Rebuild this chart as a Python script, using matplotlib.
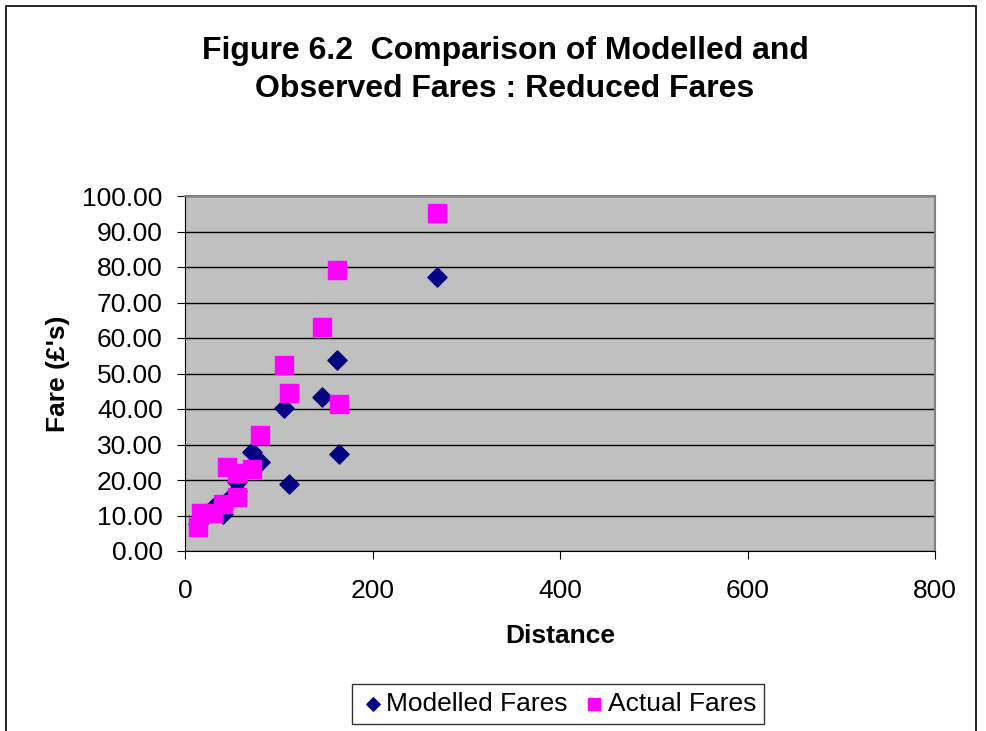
import matplotlib
matplotlib.use("Agg")
import matplotlib.pyplot as plt
from matplotlib.patches import Rectangle
from matplotlib.ticker import FuncFormatter

plt.rcParams["font.family"] = ["Liberation Sans", "DejaVu Sans"]

# distance (x) shared by both series
distance = [14, 17, 30, 41, 45, 56, 56, 72, 80, 106, 111, 146, 162, 164, 269]
modelled = [7.5, 9.0, 12.0, 10.5, 14.0, 19.5, 17.0, 27.8, 25.0, 40.2, 18.8, 43.5, 53.8, 27.4, 77.3]
actual = [6.9, 10.6, 10.6, 13.1, 23.6, 21.9, 15.3, 23.2, 32.7, 52.4, 44.6, 63.2, 79.2, 41.3, 95.1]

fig = plt.figure(figsize=(9.87, 7.31), dpi=100)
fig.patches.append(Rectangle((6 / 987, -0.01), 970 / 987, 1 - 6 / 731 + 0.01,
                             transform=fig.transFigure, fill=False,
                             edgecolor="black", lw=1.2))

ax = fig.add_axes([185 / 987, 1 - 551 / 731, 750 / 987, 355 / 731])
ax.set_facecolor("#C0C0C0")
ax.scatter(distance, modelled, marker="D", s=95, color="#000080",
           label="Modelled Fares", zorder=3)
ax.scatter(distance, actual, marker="s", s=150, color="#FF00FF",
           label="Actual Fares", zorder=4)

ax.set_xlim(0, 800)
ax.set_ylim(0, 100)
ax.set_xticks(range(0, 801, 200))
ax.set_yticks(range(0, 101, 10))
ax.yaxis.set_major_formatter(FuncFormatter(lambda v, p: f"{v:.2f}"))
ax.grid(axis="y", color="black", lw=1)
ax.set_axisbelow(True)
for s in ("top", "right"):
    ax.spines[s].set_color("#808080")
    ax.spines[s].set_linewidth(1.5)
ax.spines["left"].set_color("black")
ax.spines["bottom"].set_color("black")
ax.tick_params(labelsize=19, length=6, direction="out")
ax.tick_params(axis="x", pad=14)
ax.tick_params(axis="y", pad=10)

ax.set_xlabel("Distance", fontsize=19, fontweight="bold", labelpad=15)
ax.set_ylabel("Fare (£'s)", fontsize=19, fontweight="bold", labelpad=9)

fig.text(505 / 987, 1 - 70 / 731,
         "Figure 6.2  Comparison of Modelled and\nObserved Fares : Reduced Fares",
         ha="center", va="center", fontsize=23, fontweight="bold",
         linespacing=1.38)

leg = fig.legend(loc="center", bbox_to_anchor=(558 / 987, 1 - 704 / 731),
                 ncol=2, fontsize=19, frameon=True, fancybox=False,
                 edgecolor="black", handletextpad=0.0, columnspacing=0.5,
                 borderpad=0.3, handlelength=1.0, markerscale=0.7)
leg.get_frame().set_linewidth(1)

fig.savefig("out.png", dpi=100)
